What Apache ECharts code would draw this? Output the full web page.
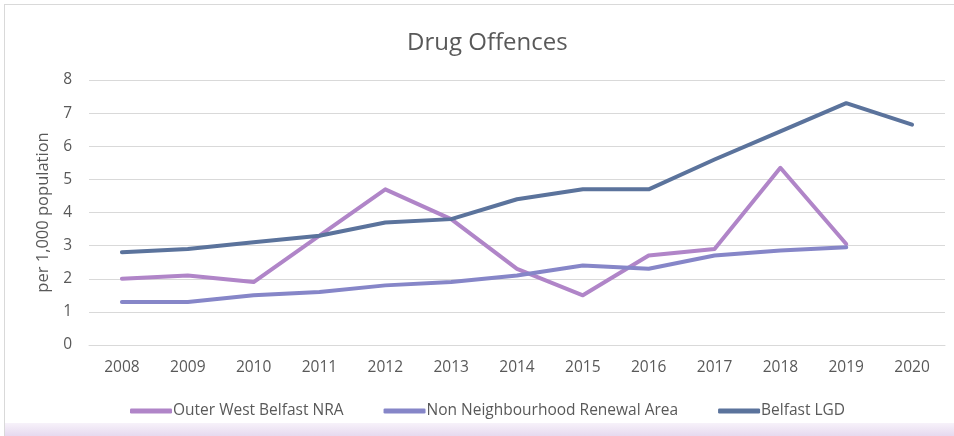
<!DOCTYPE html>
<html>
<head>
<meta charset="utf-8">
<style>
  html, body { margin: 0; padding: 0; background: #fff; }
  .frame {
    position: absolute; left: 4px; top: 4px; width: 960px; height: 440px;
    border: 1px solid #d9d9d9; box-sizing: border-box; background: #fff;
  }
  .band {
    position: absolute; left: 5px; top: 423px; width: 949px; height: 13px;
    background: linear-gradient(#f7f2fa, #e6d9ef);
  }
  #chart { position: absolute; left: 0; top: 0; width: 954px; height: 436px; }
</style>
<script src="https://cdn.jsdelivr.net/npm/echarts@6/dist/echarts.min.js"></script>
</head>
<body>
<div class="frame"></div>
<div class="band"></div>
<div id="chart"></div>
<script>
const years = ['2008', '2009', '2010', '2011', '2012', '2013', '2014', '2015', '2016', '2017', '2018', '2019', '2020']
const outerWest = [2.0, 2.1, 1.9, 3.3, 4.7, 3.8, 2.3, 1.5, 2.7, 2.9, 5.35, 3.05, null]
const nonNRA = [1.3, 1.3, 1.5, 1.6, 1.8, 1.9, 2.1, 2.4, 2.3, 2.7, 2.85, 2.95, null]
const belfastLGD = [2.8, 2.9, 3.1, 3.3, 3.7, 3.8, 4.4, 4.7, 4.7, 5.6, 6.45, 7.3, 6.65]

const textColor = '#595959'
const font = '"Open Sans", "Noto Sans", sans-serif'

const chart = echarts.init(document.getElementById('chart'), null, { renderer: 'canvas' })

function line(name, data, color) {
  return {
    name: name,
    type: 'line',
    data: data,
    symbol: 'none',
    lineStyle: { width: 4, color: color, cap: 'round', join: 'round' },
    itemStyle: { color: color },
    connectNulls: false,
    animation: false
  }
}

chart.setOption({
  animation: false,
  title: {
    text: 'Drug Offences',
    left: 402,
    top: 26,
    textStyle: { fontFamily: font, fontSize: 24, fontWeight: 'normal', color: textColor }
  },
  legend: {
    top: 398,
    left: 125,
    itemWidth: 42,
    itemHeight: 5,
    itemGap: 40,
    icon: 'roundRect',
    textStyle: { fontFamily: font, fontSize: 15.5, color: textColor, padding: [0, 0, 0, -4] },
    data: ['Outer West Belfast NRA', 'Non Neighbourhood Renewal Area', 'Belfast LGD']
  },
  grid: { left: 89, right: 9, top: 80, bottom: 91 },
  xAxis: {
    type: 'category',
    data: years,
    boundaryGap: true,
    axisLine: { show: true, lineStyle: { color: '#d9d9d9', width: 1 } },
    axisTick: { show: false },
    axisLabel: { fontFamily: font, fontSize: 15.5, color: textColor, margin: 15 }
  },
  yAxis: {
    type: 'value',
    min: 0,
    max: 8,
    interval: 1,
    name: 'per 1,000 population',
    nameLocation: 'middle',
    nameGap: 33,
    nameTextStyle: { fontFamily: font, fontSize: 16.5, color: textColor },
    axisLine: { show: false },
    axisTick: { show: false },
    axisLabel: { fontFamily: font, fontSize: 15.5, color: textColor, margin: 17 },
    splitLine: { lineStyle: { color: '#d9d9d9', width: 1 } }
  },
  series: [
    line('Outer West Belfast NRA', outerWest, '#b085c8'),
    line('Non Neighbourhood Renewal Area', nonNRA, '#8686c8'),
    line('Belfast LGD', belfastLGD, '#5b739c')
  ]
})
</script>
</body>
</html>
